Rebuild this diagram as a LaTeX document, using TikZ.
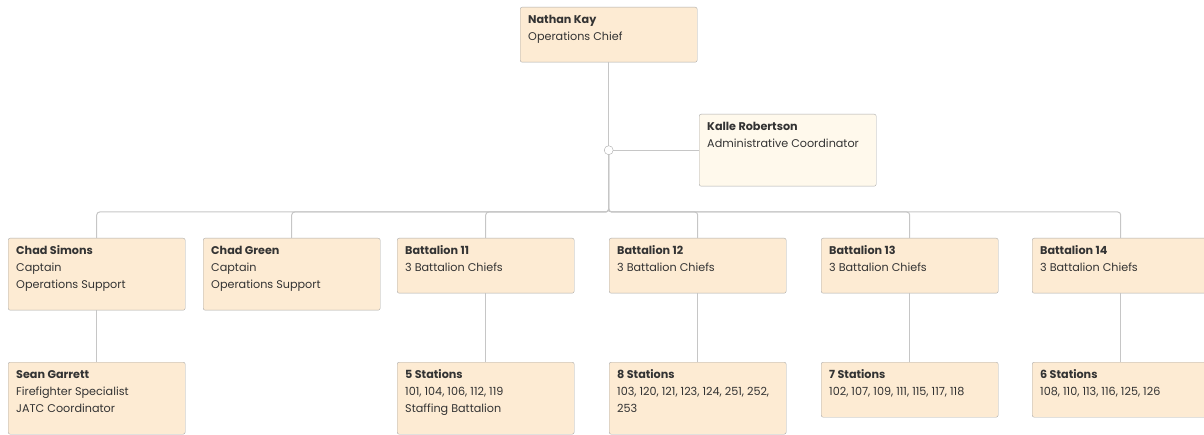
\documentclass[tikz,border=0pt]{standalone}
\usepackage{fontspec}
\setmainfont{Poppins}
\usepackage{xcolor}
\usetikzlibrary{positioning}

\definecolor{cardfill}{HTML}{FDEBD3}
\definecolor{notefill}{HTML}{FFF9EC}
\definecolor{cardline}{HTML}{ABABAB}
\definecolor{linkgray}{HTML}{C6C6C6}
\definecolor{inkgray}{HTML}{333333}

\newcommand{\cardtext}[3]{\parbox[t][#1][t]{161pt}{\strut\textbf{#2}\\#3}}

\begin{document}
\begin{tikzpicture}[
    x=1pt, y=-1pt,
    card/.style={rectangle,draw=cardline,fill=cardfill,rounded corners=2pt,anchor=north west,
      inner xsep=8pt,inner ysep=4.5pt,text=inkgray,font=\fontsize{11.2}{16.8}\selectfont},
    note/.style={card,fill=notefill},
    link/.style={draw=linkgray,line width=1pt,rounded corners=3pt},
    hubdot/.style={circle,draw=cardline,fill=white,inner sep=0pt,minimum size=9pt}
]
\useasboundingbox (0,0) rectangle (1204,435);

% top of the chart
\node[card] (chief) at (520,7) {\cardtext{46pt}{Nathan Kay}{Operations Chief}};
\node[note] (admin) at (699,114) {\cardtext{63pt}{Kalle Robertson}{Administrative Coordinator}};

% second row
\node[card] (simons) at (8,238) {\cardtext{63pt}{Chad Simons}{Captain\\Operations Support}};
\node[card] (green) at (203,238) {\cardtext{63pt}{Chad Green}{Captain\\Operations Support}};
\node[card] (bat11) at (397,238) {\cardtext{46pt}{Battalion 11}{3 Battalion Chiefs}};
\node[card] (bat12) at (609,238) {\cardtext{46pt}{Battalion 12}{3 Battalion Chiefs}};
\node[card] (bat13) at (821,238) {\cardtext{46pt}{Battalion 13}{3 Battalion Chiefs}};
\node[card] (bat14) at (1032,238) {\cardtext{46pt}{Battalion 14}{3 Battalion Chiefs}};

% third row
\node[card] (garrett) at (8,362) {\cardtext{63pt}{Sean Garrett}{Firefighter Specialist\\JATC Coordinator}};
\node[card] (st11) at (397,362) {\cardtext{63pt}{5 Stations}{101, 104, 106, 112, 119\\Staffing Battalion}};
\node[card] (st12) at (609,362) {\cardtext{63pt}{8 Stations}{103, 120, 121, 123, 124, 251, 252,\\253}};
\node[card] (st13) at (821,362) {\cardtext{46pt}{7 Stations}{102, 107, 109, 111, 115, 117, 118}};
\node[card] (st14) at (1032,362) {\cardtext{46pt}{6 Stations}{108, 110, 113, 116, 125, 126}};

% connectors
\coordinate (hub) at (chief.south |- admin.west);
\coordinate (busline) at (0,212);
\draw[link] (chief.south) -- (hub);
\draw[link] (hub) -- (admin.west);
\foreach \kid in {simons,green,bat11,bat12,bat13,bat14}
  \draw[link] (hub) -- (hub |- busline) -| (\kid.north);
\draw[link] (simons) -- (garrett);
\draw[link] (bat11) -- (st11);
\draw[link] (bat12) -- (st12);
\draw[link] (bat13) -- (st13);
\draw[link] (bat14) -- (st14);
\node[hubdot] at (hub) {};
\end{tikzpicture}
\end{document}
